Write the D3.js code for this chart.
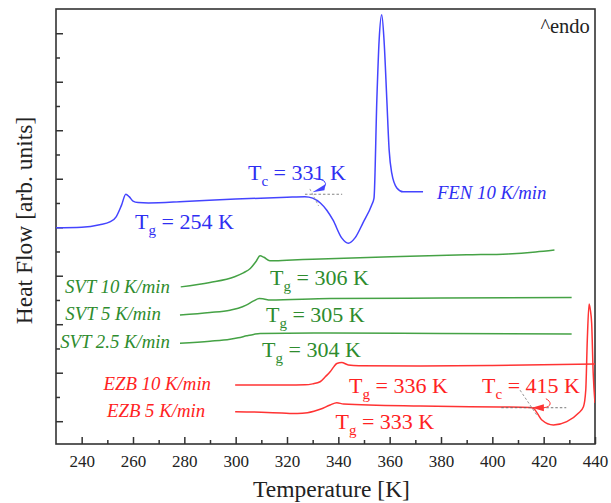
<!DOCTYPE html>
<html><head><meta charset="utf-8">
<script src="https://cdn.jsdelivr.net/npm/d3@7/dist/d3.min.js"></script>
<style>body{margin:0;background:#fff}svg{display:block}
svg text{font-family:"Liberation Serif","DejaVu Serif","Noto Serif",Times,serif !important;}</style>
</head><body><svg id="c" width="611" height="503"></svg>
<script>
// ---- data (temperature [K], heat flow [arb. units]) ----
const xTicksMajor = [240,260,280,300,320,340,360,380,400,420,440];
const fenT  = [230,240,247,251,253.5,255.5,257.2,258.5,260,262,266,280,300,320,327,330,333,335.5,337.9,341.3,343.9,346.5,349.6,353,353.9,355,355.9,356.9,357.8,358.9,359.8,360.8,362.8,365.2,373];
const fenHF = [3.99,4.00,4.05,4.11,4.22,4.45,4.68,4.63,4.54,4.51,4.50,4.53,4.58,4.62,4.63,4.60,4.50,4.35,4.15,3.78,3.67,3.78,4.09,4.46,4.60,6.62,7.86,8.38,7.86,6.62,5.59,5.12,4.81,4.73,4.73];
const svt10T  = [278.6,290,299.6,303,305.7,308,309.5,311,313.3,320,330,360.6,390,406.1,416.9,424.2];
const svt10HF = [2.77,2.86,2.98,3.06,3.15,3.30,3.41,3.38,3.31,3.32,3.34,3.39,3.43,3.45,3.49,3.53];
const svt5T  = [278.3,290,297.8,301,304.3,307,309.2,311,313.4,336.8,380,430.9];
const svt5HF = [2.19,2.24,2.29,2.33,2.40,2.48,2.53,2.52,2.50,2.53,2.54,2.55];
const svt25T  = [278.3,290,297.8,301,304.3,307,309.5,336.8,380,430.9];
const svt25HF = [1.61,1.65,1.69,1.72,1.76,1.79,1.81,1.82,1.81,1.80];
const ezb10T  = [299.8,320,327,330,332.9,335,336.8,338.2,339.4,341.3,343.9,348,371.9,400,440];
const ezb10HF = [0.746,0.746,0.75,0.77,0.814,0.92,1.02,1.12,1.19,1.21,1.16,1.145,1.14,1.15,1.18];
const ezb5T  = [299.8,310,318,324,328,330.5,332.9,336.8,339.4,342,371.9,403,414.7,416,419.3,423.8,429,433.5,435.5,436.4,437,437.7,438.2,438.7,439.3,440];
const ezb5HF = [0.196,0.185,0.168,0.158,0.175,0.205,0.245,0.334,0.381,0.355,0.313,0.293,0.282,0.266,0.025,-0.078,-0.01,0.163,0.299,0.643,1.674,2.417,2.29,2.02,0.99,0.375];
const seriesNames = ["FEN 10 K/min","SVT 10 K/min","SVT 5 K/min","SVT 2.5 K/min","EZB 10 K/min","EZB 5 K/min"];
const tgValues = [254,306,305,304,336,333];
const tcValues = [331,415];

// ---- layout ----
const L=56, R=595, T=9, B=444;
const svg=d3.select("#c");
const x=d3.scaleLinear().domain([230,440]).range([L,R]);
const y=d3.scaleLinear().domain([-0.47,8.5]).range([B,T]);
const BLUE="#4444ff", BLUE_T="#2f2ff2", GREEN="#45a245", GREEN_T="#2e8c2e", RED="#ff3333", RED_T="#ff2222";

svg.append("defs").append("clipPath").attr("id","clip").append("rect")
  .attr("x",L).attr("y",T).attr("width",R-L).attr("height",B-T);

const frameCol="#333";
const gx=svg.append("g").attr("transform",`translate(0,${B})`)
  .call(d3.axisBottom(x).tickValues(xTicksMajor).tickSize(-7).tickPadding(11).tickFormat(d3.format("d")));
const gxm=svg.append("g").attr("transform",`translate(0,${B})`)
  .call(d3.axisBottom(x).tickValues(d3.range(250,440,20)).tickSize(-4).tickFormat(""));
const gy=svg.append("g").attr("transform",`translate(${L},0)`)
  .call(d3.axisLeft(y).tickValues(d3.range(0,9,1)).tickSize(-7).tickFormat(""));
const gym=svg.append("g").attr("transform",`translate(${L},0)`)
  .call(d3.axisLeft(y).tickValues(d3.range(0.5,8,1)).tickSize(-4).tickFormat(""));
[gx,gxm,gy,gym].forEach(g=>{g.attr("font-family",null);g.select(".domain").remove();g.selectAll("line").attr("stroke",frameCol).attr("stroke-width",1.5);});
gx.selectAll("text").attr("font-size",17).attr("fill","#222");

svg.append("rect").attr("x",L).attr("y",T).attr("width",R-L).attr("height",B-T)
  .attr("fill","none").attr("stroke",frameCol).attr("stroke-width",1.6);

svg.append("text").attr("x",(L+R)/2+6).attr("y",497).attr("text-anchor","middle")
  .attr("font-size",23.5).attr("fill","#222").text("Temperature [K]");
svg.append("text").attr("transform",`translate(32,${(T+B)/2-6}) rotate(-90)`).attr("text-anchor","middle")
  .attr("font-size",23.5).attr("fill","#222").text("Heat Flow [arb. units]");

const plot=svg.append("g").attr("clip-path","url(#clip)");
const line=d3.line().x(d=>x(d[0])).y(d=>y(d[1])).curve(d3.curveMonotoneX);
const series=[[fenT,fenHF,BLUE],[svt10T,svt10HF,GREEN],[svt5T,svt5HF,GREEN],[svt25T,svt25HF,GREEN],[ezb10T,ezb10HF,RED],[ezb5T,ezb5HF,RED]];
series.forEach(([ts,vs,c])=>{
  plot.append("path").datum(d3.zip(ts,vs)).attr("d",line).attr("fill","none")
    .attr("stroke",c).attr("stroke-width",1.5);
});

function dashed(p,c){svg.append("path").attr("d",d3.line().x(d=>x(d[0])).y(d=>y(d[1]))(p))
  .attr("stroke",c).attr("stroke-width",0.9).attr("stroke-dasharray","2.5,2").attr("fill","none");}
dashed([[327,4.68],[341.5,4.68]],"#777");
dashed([[328.9,4.79],[332.3,4.44]],"#999");
dashed([[403.5,0.278],[428.8,0.278]],"#666");
dashed([[410.8,0.64],[417.3,0.128]],"#888");

function arrow(tipT,tipV,dir,c){
  const tx=x(tipT), ty=y(tipV);
  if(dir==="fen"){
    svg.append("path").attr("d",`M${tx},${ty-1} L${tx+13},${ty-9} L${tx+12},${ty-3} Z`).attr("fill",c);
    svg.append("path").attr("d",`M${tx+1},${ty-15} Q${tx+17},${ty-14} ${tx+12},${ty-6}`).attr("fill","none").attr("stroke",c).attr("stroke-width",1);
  } else {
    svg.append("path").attr("d",`M${tx},${ty} L${tx+12},${ty-3.5} L${tx+12},${ty+3.5} Z`).attr("fill",c);
    svg.append("path").attr("d",`M${tx+12},${ty} C${tx+20},${ty-1} ${tx+20},${ty-6} ${tx+14},${ty-9}`).attr("fill","none").attr("stroke",c).attr("stroke-width",1);
  }
}
arrow(329.9,4.70,"fen",BLUE);
arrow(415.4,0.278,"ezb",RED);

function tLabel(px,py,sub,val,c){
  const t=svg.append("text").attr("x",px).attr("y",py).attr("font-size",22).attr("fill",c);
  t.append("tspan").text("T");
  t.append("tspan").attr("dy",6).attr("font-size",15).text(sub);
  t.append("tspan").attr("dy",-6).text(` = ${val} K`);
}
tLabel(x(260.8),y(3.96),"g",tgValues[0],BLUE_T);
tLabel(x(304.8),y(4.97),"c",tcValues[0],BLUE_T);
tLabel(x(313.4),y(2.81),"g",tgValues[1],GREEN_T);
tLabel(x(311.8),y(2.05),"g",tgValues[2],GREEN_T);
tLabel(x(310.3),y(1.33),"g",tgValues[3],GREEN_T);
tLabel(x(344.2),y(0.59),"g",tgValues[4],RED_T);
tLabel(x(338.9),y(-0.17),"g",tgValues[5],RED_T);
tLabel(x(396),y(0.58),"c",tcValues[1],RED_T);

function sLabel(px,py,txt,c,anchor){
  svg.append("text").attr("x",px).attr("y",py).attr("text-anchor",anchor)
    .attr("font-style","italic").attr("font-size",18.8).attr("fill",c).text(txt);
}
sLabel(x(378.4),y(4.58),seriesNames[0],BLUE_T,"start");
sLabel(x(274.4),y(2.64),seriesNames[1],GREEN_T,"end");
sLabel(x(270.9),y(2.09),seriesNames[2],GREEN_T,"end");
sLabel(x(274.4),y(1.51),seriesNames[3],GREEN_T,"end");
sLabel(x(290.4),y(0.64),seriesNames[4],RED_T,"end");
sLabel(x(288.1),y(0.09),seriesNames[5],RED_T,"end");

svg.append("text").attr("x",x(438)).attr("y",y(8.0)).attr("text-anchor","end")
  .attr("font-size",20.5).attr("fill","#222").text("^endo");
</script></body></html>
